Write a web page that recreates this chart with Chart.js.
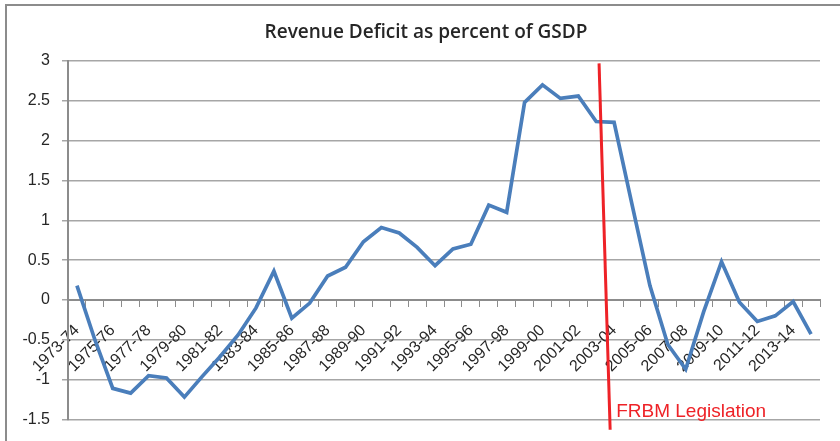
<!DOCTYPE html>
<html>
<head>
<meta charset="utf-8">
<title>Revenue Deficit as percent of GSDP</title>
<script src="https://cdn.jsdelivr.net/npm/chart.js@4.4.1/dist/chart.umd.min.js"></script>
<style>
  html, body { margin: 0; padding: 0; background: #fff; overflow: hidden; }
  #wrap { position: relative; width: 840px; height: 441px; }
  #frame {
    position: absolute; left: 5px; top: 4px; width: 900px; height: 500px;
    border-left: 2px solid #8c8c8c; border-top: 2px solid #8c8c8c;
  }
  canvas { position: absolute; left: 0; top: 0; }
</style>
</head>
<body>
<div id="wrap">
  <div id="frame"></div>
  <canvas id="rdChart" width="840" height="441"></canvas>
</div>
<script>
// fiscal years, one point per year
const years = [
  "1973-74", "1974-75", "1975-76", "1976-77", "1977-78", "1978-79", "1979-80",
  "1980-81", "1981-82", "1982-83", "1983-84", "1984-85", "1985-86", "1986-87",
  "1987-88", "1988-89", "1989-90", "1990-91", "1991-92", "1992-93", "1993-94",
  "1994-95", "1995-96", "1996-97", "1997-98", "1998-99", "1999-00", "2000-01",
  "2001-02", "2002-03", "2003-04", "2004-05", "2005-06", "2006-07", "2007-08",
  "2008-09", "2009-10", "2010-11", "2011-12", "2012-13", "2013-14", "2014-15"
];

// revenue deficit, % of GSDP
const revenueDeficit = [
  0.18, -0.50, -1.11, -1.17, -0.95, -0.98, -1.22,
  -0.96, -0.71, -0.44, -0.10, 0.36, -0.23, -0.04,
  0.30, 0.41, 0.73, 0.91, 0.84, 0.66, 0.43,
  0.64, 0.70, 1.19, 1.10, 2.48, 2.70, 2.53,
  2.56, 2.24, 2.23, 1.20, 0.18, -0.56, -0.87,
  -0.15, 0.48, -0.03, -0.27, -0.20, -0.02, -0.43
];

const yTicks = [-1.5, -1, -0.5, 0, 0.5, 1, 1.5, 2, 2.5, 3];
const chartTitle = "Revenue Deficit as percent of GSDP";

// FRBM marker: [category index, value] at each end
const frbmTop = [29.16, 2.97];
const frbmBottom = [29.78, -1.63];
const frbmLabel = "FRBM Legislation";

const frbmMarker = {
  id: 'frbmMarker',
  afterDatasetsDraw(chart) {
    const x = chart.scales.x, y = chart.scales.y, ctx = chart.ctx;
    const x1 = x.getPixelForValue(frbmTop[0]), y1 = y.getPixelForValue(frbmTop[1]);
    const x2 = x.getPixelForValue(frbmBottom[0]), y2 = y.getPixelForValue(frbmBottom[1]);
    ctx.save();
    ctx.strokeStyle = '#ee2227';
    ctx.lineWidth = 3;
    ctx.beginPath();
    ctx.moveTo(x1, y1);
    ctx.lineTo(x2, y2);
    ctx.stroke();
    ctx.fillStyle = '#ee2227';
    ctx.font = '19px "Liberation Sans", sans-serif';
    ctx.textBaseline = 'alphabetic';
    ctx.fillText(frbmLabel, x2 + 6, y.getPixelForValue(-1.465));
    ctx.restore();
  }
};

// title sits a little right of the canvas centre
const titleText = {
  id: 'titleText',
  afterDraw(chart) {
    const ctx = chart.ctx;
    ctx.save();
    ctx.fillStyle = '#262626';
    ctx.font = '600 19px "Open Sans", sans-serif';
    ctx.textAlign = 'center';
    ctx.textBaseline = 'middle';
    ctx.fillText(chartTitle, chart.width / 2 + 6, 33);
    ctx.restore();
  }
};

new Chart(document.getElementById('rdChart'), {
  type: 'line',
  data: {
    labels: years,
    datasets: [{
      label: 'Revenue Deficit',
      data: revenueDeficit,
      borderColor: '#4a7ebb',
      borderWidth: 3.7,
      pointRadius: 0,
      tension: 0,
      fill: false
    }]
  },
  options: {
    responsive: false,
    animation: false,
    layout: { padding: { left: 0, right: 20, top: 61, bottom: 15 } },
    plugins: {
      legend: { display: false },
      tooltip: { enabled: false },
      title: { display: false }
    },
    scales: {
      x: {
        position: { y: 0 },
        offset: true,
        grid: {
          offset: true,
          drawOnChartArea: false,
          drawTicks: true,
          tickLength: 6,
          color: '#8c8c8c'
        },
        border: { display: true, color: '#8c8c8c', width: 2 },
        ticks: {
          autoSkip: false,
          maxRotation: 45,
          minRotation: 45,
          padding: 15,
          color: '#262626',
          font: { family: '"Liberation Sans", sans-serif', size: 16 },
          callback: (v, i) => (i % 2 === 0 ? years[i] : '')
        }
      },
      y: {
        min: -1.5,
        max: 3,
        afterBuildTicks: (axis) => { axis.ticks = yTicks.map(v => ({ value: v })); },
        afterFit: (axis) => { axis.width = 68; },
        grid: { color: '#a6a6a6', lineWidth: 1.5, tickLength: 6 },
        border: { display: true, color: '#8c8c8c', width: 2 },
        ticks: {
          padding: 12,
          color: '#262626',
          font: { family: '"Liberation Sans", sans-serif', size: 16 },
          callback: (v) => String(v)
        }
      }
    }
  },
  plugins: [frbmMarker, titleText]
});
</script>
</body>
</html>
